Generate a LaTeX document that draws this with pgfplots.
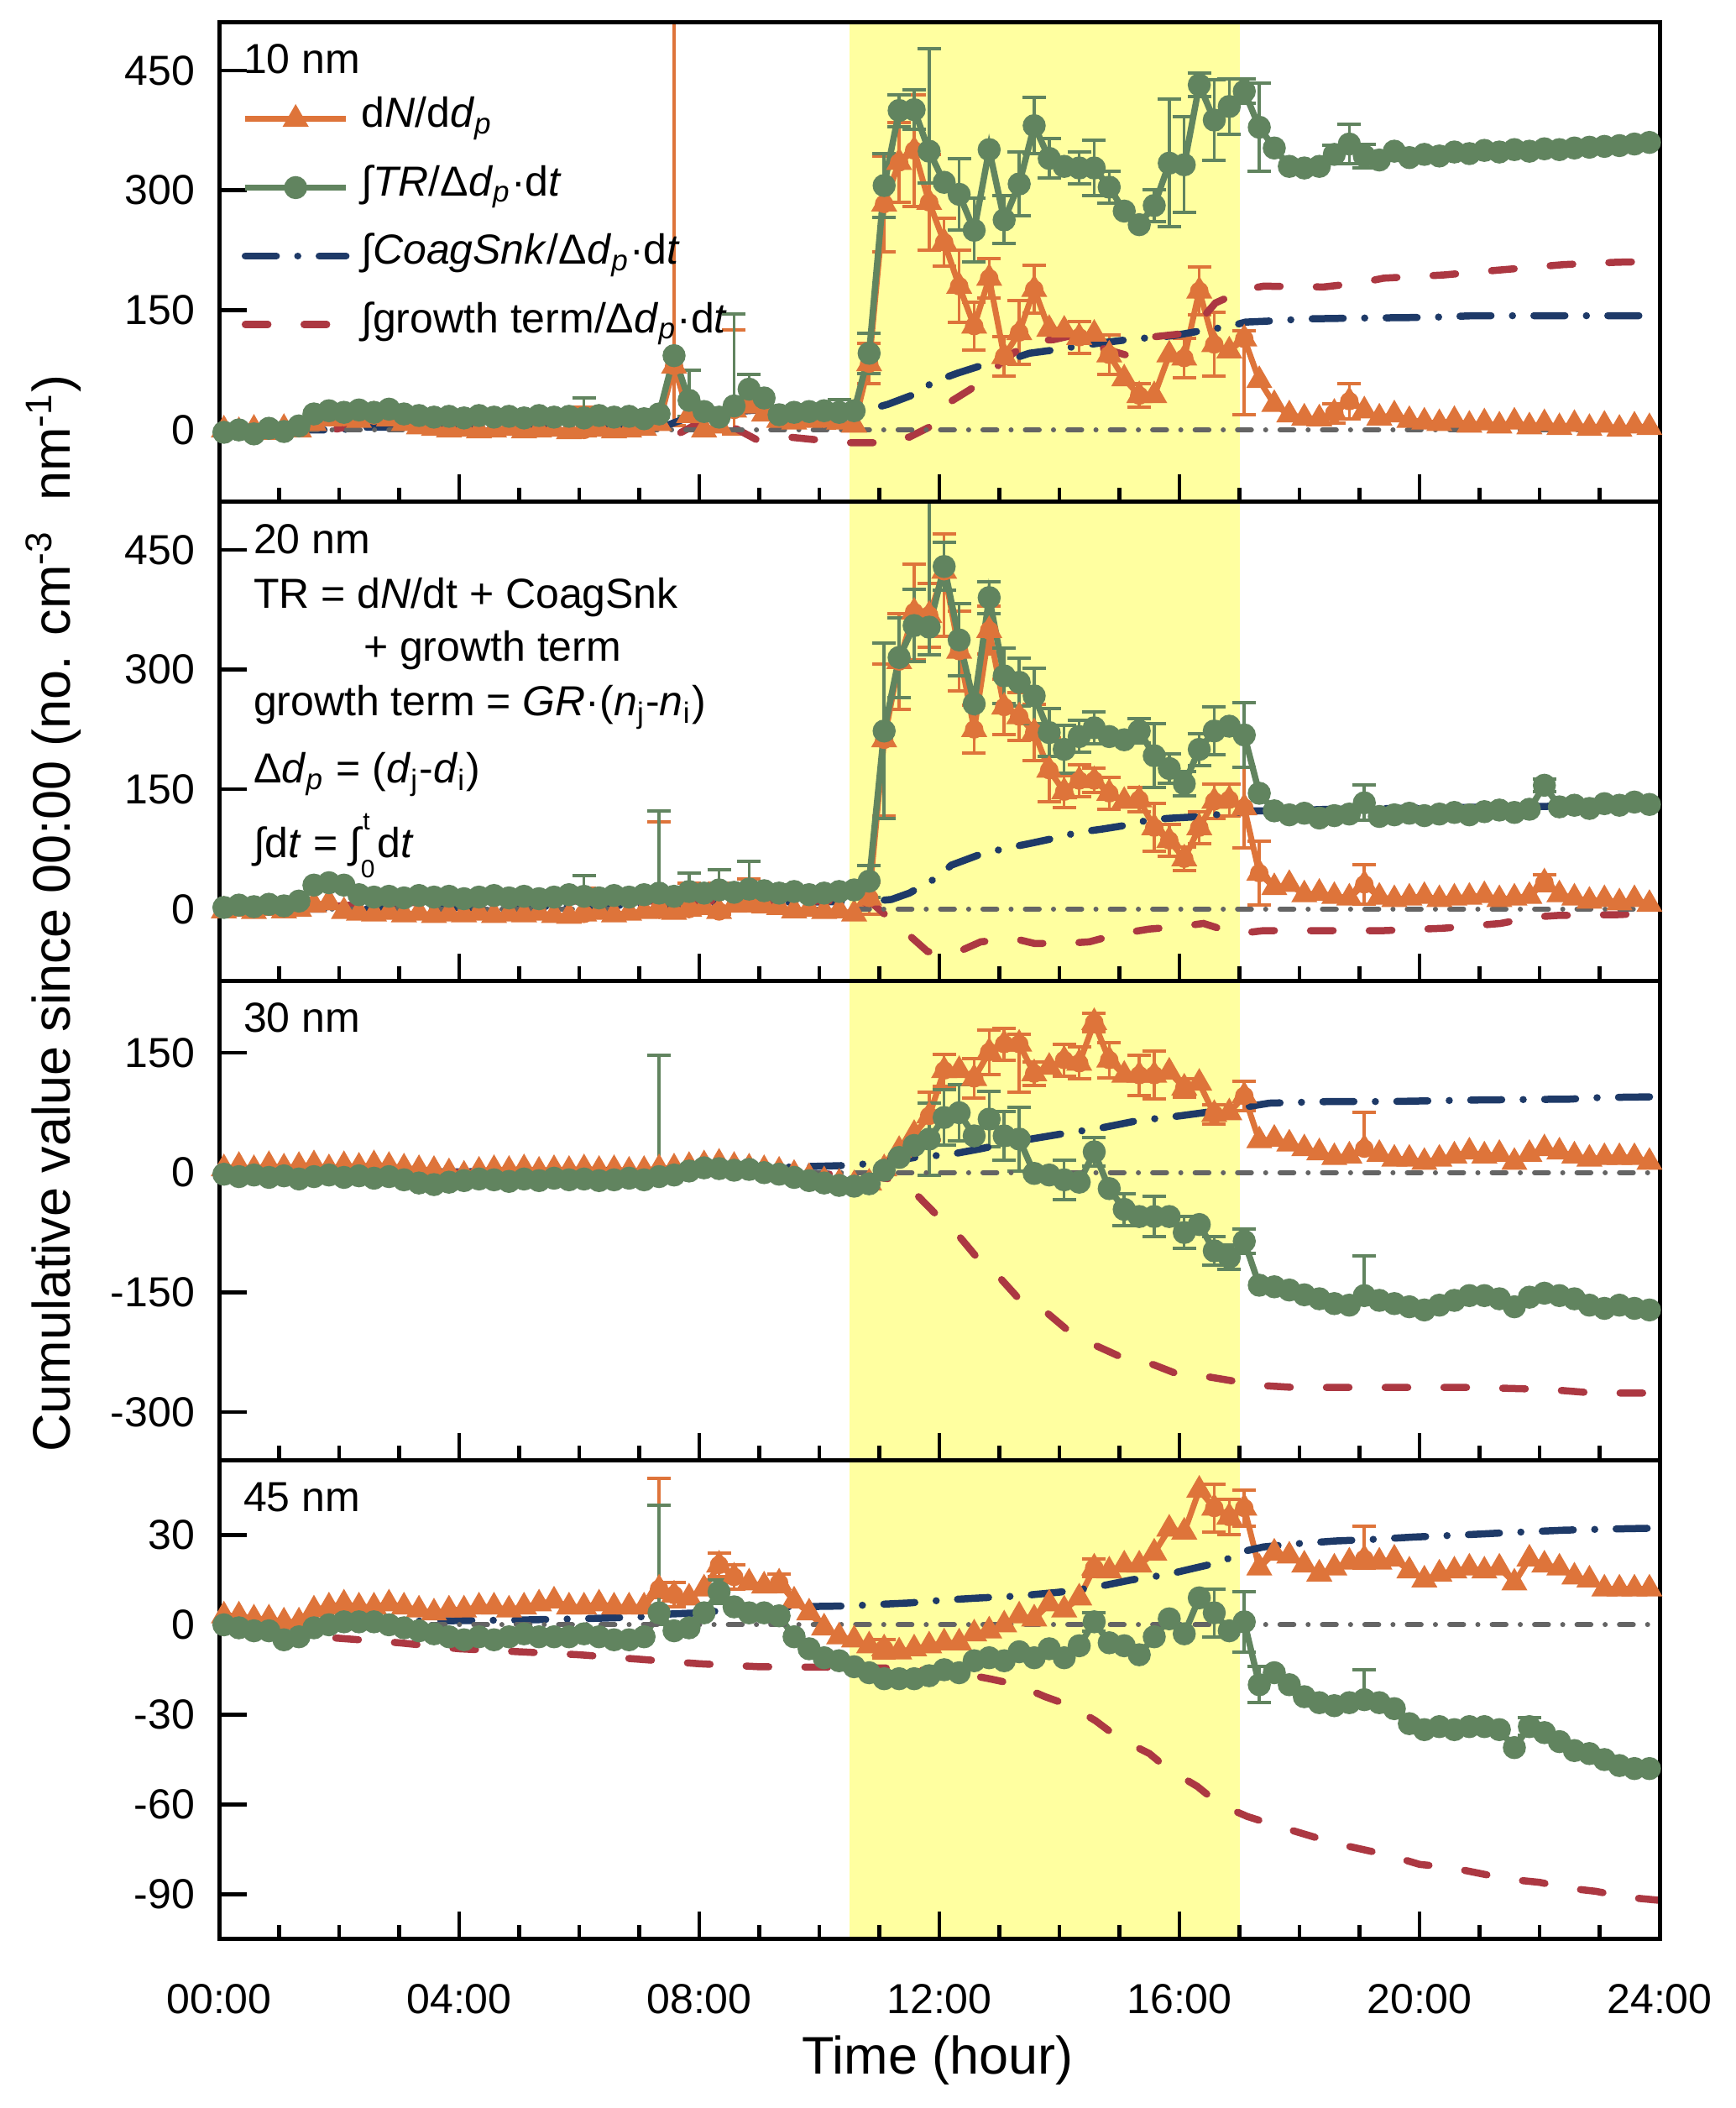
\documentclass[border=0pt]{standalone}
\usepackage{fontspec}
\setmainfont{Liberation Sans}
\usepackage{pgfplots}
\usepackage{pgfplotstable}
\pgfplotsset{compat=1.18}

\definecolor{cO}{RGB}{222,116,58}
\definecolor{cG}{RGB}{97,132,95}
\definecolor{cB}{RGB}{30,58,104}
\definecolor{cR}{RGB}{172,56,66}
\definecolor{cK}{RGB}{100,100,100}
\definecolor{cY}{RGB}{255,255,160}

% panel 1: 10 nm (o = dN/ddp, g = int TR)
\pgfplotstableread{
t o g
0.08 0 -3
0.33 -2 0
0.58 1 -5
0.83 -3 2
1.08 2 -2
1.33 0 5
1.58 8 20
1.83 14 24
2.08 16 22
2.33 12 25
2.58 18 22
2.83 14 26
3.08 8 20
3.33 4 18
3.58 2 16
3.83 0 17
4.08 1 15
4.33 -1 18
4.58 0 16
4.83 2 17
5.08 -1 15
5.33 0 18
5.58 1 16
5.83 -2 17
6.08 0 15
6.33 1 18
6.58 -1 16
6.83 0 17
7.08 2 14
7.33 8 20
7.58 80 93
7.83 18 37
8.08 0 23
8.33 5 16
8.58 25 30
8.83 30 51
9.08 20 40
9.33 12 19
9.58 10 22
9.83 12 23
10.08 14 24
10.33 10 22
10.58 6 24
10.83 83 96
11.08 283 306
11.33 335 400
11.58 350 401
11.83 285 349
12.08 235 310
12.33 180 295
12.58 130 250
12.83 190 351
13.08 92 263
13.33 122 308
13.58 176 381
13.83 126 340
14.08 125 330
14.33 116 328
14.58 120 328
14.83 94 304
15.08 64 274
15.33 43 257
15.58 43 281
15.83 94 334
16.08 90 332
16.33 174 432
16.58 107 388
16.83 99 405
17.08 114 424
17.33 62 379
17.58 32 353
17.83 19 330
18.08 15 328
18.33 14 330
18.58 21 345
18.83 36 358
19.08 24 343
19.33 15 338
19.58 19 349
19.83 12 341
20.08 10 345
20.33 8 343
20.58 12 348
20.83 6 346
21.08 9 350
21.33 5 348
21.58 10 351
21.83 4 349
22.08 8 352
22.33 3 351
22.58 7 353
22.83 2 354
23.08 6 355
23.33 1 356
23.58 5 358
23.83 3 360
}\pone

% panel 2: 20 nm
\pgfplotstableread{
t o g
0.08 -2 2
0.33 0 5
0.58 -3 3
0.83 1 6
1.08 -2 4
1.33 0 10
1.58 5 30
1.83 8 33
2.08 -3 30
2.33 -5 18
2.58 -6 15
2.83 -4 16
3.08 -7 14
3.33 -5 17
3.58 -8 15
3.83 -6 16
4.08 -7 13
4.33 -5 15
4.58 -8 17
4.83 -6 14
5.08 -7 16
5.33 -5 13
5.58 -8 15
5.83 -9 18
6.08 -6 16
6.33 -4 14
6.58 -7 17
6.83 -5 15
7.08 -3 18
7.33 -1 20
7.58 -4 16
7.83 0 22
8.08 2 20
8.33 -3 24
8.58 5 21
8.83 8 25
9.08 4 23
9.33 2 20
9.58 -2 22
9.83 0 18
10.08 -3 20
10.33 -2 22
10.58 -6 24
10.83 14 35
11.08 212 223
11.33 310 315
11.58 372 355
11.83 368 353
12.08 423 429
12.33 323 337
12.58 225 257
12.83 349 390
13.08 253 292
13.33 241 284
13.58 221 267
13.83 174 221
14.08 147 200
14.33 161 216
14.58 161 227
14.83 145 216
15.08 135 212
15.33 137 223
15.58 102 192
15.83 86 176
16.08 63 157
16.33 102 200
16.58 135 223
16.83 137 229
17.08 127 218
17.33 45 145
17.58 27 123
17.83 31 118
18.08 18 120
18.33 20 114
18.58 16 117
18.83 14 119
19.08 31 133
19.33 15 116
19.58 12 118
19.83 14 120
20.08 16 117
20.33 12 119
20.58 14 121
20.83 15 118
21.08 17 122
21.33 12 124
21.58 14 121
21.83 16 125
22.08 33 155
22.33 18 128
22.58 14 130
22.83 10 126
23.08 12 132
23.33 8 130
23.58 12 134
23.83 6 131
}\ptwo

% panel 3: 30 nm
\pgfplotstableread{
t o g
0.08 5 -2
0.33 8 -5
0.58 4 -3
0.83 9 -6
1.08 6 -4
1.33 8 -8
1.58 10 -5
1.83 5 -3
2.08 9 -6
2.33 7 -4
2.58 10 -7
2.83 8 -5
3.08 6 -9
3.33 4 -13
3.58 3 -15
3.83 0 -12
4.08 -3 -10
4.33 2 -8
4.58 4 -9
4.83 3 -11
5.08 5 -8
5.33 2 -10
5.58 4 -7
5.83 3 -9
6.08 5 -8
6.33 3 -10
6.58 4 -9
6.83 2 -7
7.08 3 -9
7.33 5 -5
7.58 6 -3
7.83 8 2
8.08 10 6
8.33 12 5
8.58 8 3
8.83 6 4
9.08 4 0
9.33 2 -2
9.58 -2 -6
9.83 -6 -10
10.08 -10 -13
10.33 -13 -16
10.58 -15 -17
10.83 -13 -14
11.08 5 3
11.33 28 19
11.58 48 34
11.83 71 42
12.08 128 69
12.33 128 75
12.58 118 46
12.83 151 67
13.08 161 46
13.33 161 42
13.58 124 -1
13.83 132 -3
14.08 141 -9
14.33 137 -12
14.58 188 26
14.83 141 -20
15.08 122 -46
15.33 122 -55
15.58 122 -55
15.83 126 -55
16.08 106 -75
16.33 112 -65
16.58 73 -98
16.83 75 -106
17.08 96 -86
17.33 40 -141
17.58 42 -143
17.83 36 -147
18.08 30 -153
18.33 25 -158
18.58 19 -164
18.83 21 -166
19.08 30 -154
19.33 23 -160
19.58 17 -164
19.83 17 -168
20.08 13 -172
20.33 17 -166
20.58 21 -160
20.83 26 -154
21.08 21 -154
21.33 23 -158
21.58 13 -168
21.83 23 -156
22.08 30 -151
22.33 26 -154
22.58 21 -158
22.83 17 -166
23.08 19 -170
23.33 19 -166
23.58 19 -170
23.83 13 -172
}\pthree

% panel 4: 45 nm
\pgfplotstableread{
t o g
0.08 3 0
0.33 3 -1
0.58 2 -2
0.83 2 -2
1.08 1 -5
1.33 1 -4
1.58 5 -1
1.83 6 0
2.08 7 1
2.33 6 1
2.58 6 1
2.83 7 0
3.08 6 -1
3.33 5 -2
3.58 4 -3
3.83 5 -4
4.08 5 -5
4.33 6 -4
4.58 6 -5
4.83 5 -4
5.08 6 -3
5.33 7 -4
5.58 8 -4
5.83 6 -4
6.08 6 -3
6.33 7 -4
6.58 6 -5
6.83 6 -5
7.08 6 -4
7.33 12 4
7.58 10 -2
7.83 9 -1
8.08 12 4
8.33 20 11
8.58 16 6
8.83 14 4
9.08 13 4
9.33 14 3
9.58 8 -4
9.83 4 -8
10.08 -1 -11
10.33 -4 -12
10.58 -5 -14
10.83 -7 -16
11.08 -8 -18
11.33 -9 -18
11.58 -8 -18
11.83 -7 -17
12.08 -6 -15
12.33 -6 -16
12.58 -3 -12
12.83 -2 -11
13.08 0 -12
13.33 3 -9
13.58 2 -11
13.83 7 -8
14.08 5 -11
14.33 9 -7
14.58 19 1
14.83 18 -6
15.08 20 -7
15.33 20 -10
15.58 24 -4
15.83 32 2
16.08 31 -3
16.33 45 9
16.58 39 4
16.83 36 -2
17.08 39 1
17.33 19 -20
17.58 24 -16
17.83 23 -20
18.08 20 -24
18.33 17 -26
18.58 19 -27
18.83 21 -26
19.08 22 -25
19.33 21 -26
19.58 22 -28
19.83 18 -33
20.08 15 -35
20.33 17 -34
20.58 18 -35
20.83 19 -34
21.08 18 -34
21.33 19 -35
21.58 14 -41
21.83 22 -34
22.08 20 -36
22.33 19 -39
22.58 16 -42
22.83 15 -43
23.08 12 -45
23.33 12 -47
23.58 12 -48
23.83 12 -48
}\pfour

\pgfplotsset{
  panel/.style={
    scale only axis, width=343.2pt, height=114.15pt,
    anchor=south west,
    xmin=0, xmax=24,
    xtick={0,4,...,24}, minor x tick num=3,
    tick pos=left, tick align=inside,
    major tick length=6.5pt, minor tick length=3.4pt,
    every tick/.append style={line width=0.9pt, black},
    every minor tick/.append style={line width=0.9pt, black},
    axis line style={line width=1pt},
    axis on top,
    xticklabels={},
    tick label style={font=\fontsize{10}{12}\selectfont},
    yticklabel style={xshift=-2.3pt},
    xticklabel style={anchor=base, yshift=-17.8pt},
    /pgf/number format/assume math mode=true,
  },
  oline/.style={cO, line width=1.4pt, mark=triangle*, mark size=3.1pt, mark options={solid, line width=0.5pt}},
  gline/.style={cG, line width=1.5pt, mark=*, mark size=2.5pt, mark options={solid, line width=0.5pt}},
  bline/.style={cB, line width=1.7pt, line cap=round, dash pattern=on 7.4pt off 5.1pt on 0.01pt off 5.1pt},
  rline/.style={cR, line width=1.7pt, line cap=round, dash pattern=on 5.4pt off 8.6pt},
  kline/.style={cK, line width=1.2pt, line cap=round, dash pattern=on 3.3pt off 3.4pt on 0.01pt off 3.4pt, forget plot},
  band/.style={fill=cY, draw=none, forget plot},
  ebar/.style={#1, only marks, mark=none, forget plot, error bars/.cd, y dir=both, y explicit, error bar style={line width=0.7pt}, error mark options={rotate=90, line width=0.8pt, mark size=2.8pt}},
}

\begin{document}
\begin{tikzpicture}
\useasboundingbox (0,0) rectangle (413.4pt,502.2pt);

% ---------------- panel 1 : 10 nm ----------------
\begin{axis}[panel, at={(52.2pt,382.65pt)}, ymin=-90, ymax=510, ytick={0,150,300,450},
  legend style={at={(0.0157,0.8467)}, anchor=north west, draw=none, fill=none, inner sep=0pt, outer sep=0pt,
    row sep=5.3pt, column sep=2.8pt, font=\fontsize{10}{12}\selectfont,
    nodes={inner sep=0pt, text height=7.5pt, text depth=3.5pt}},
  legend cell align=left,
  legend image code/.code={\draw[mark repeat=2,mark phase=2,#1] plot coordinates {(0pt,0pt) (12pt,0pt) (24pt,0pt)};}]
\addplot[band] coordinates {(10.5,-90) (10.5,510) (17,510) (17,-90)} --cycle;
\addplot[ebar=cO] coordinates {
 (2.08,16) +- (0,10) (2.58,18) +- (0,12) (6.08,0) += (0,28) -= (0,3)
 (7.58,80) += (0,500) -= (0,75) (8.58,25) += (0,100) -= (0,30) (10.08,14) +- (0,12)
 (10.83,83) +- (0,25) (11.08,283) +- (0,60) (11.33,335) +- (0,50) (11.58,350) +- (0,70)
 (11.83,285) +- (0,60) (12.08,235) +- (0,30) (12.33,180) +- (0,45) (12.58,130) +- (0,30)
 (12.83,190) +- (0,25) (13.08,92) +- (0,25) (13.33,122) +- (0,40) (13.58,176) +- (0,30)
 (14.33,116) +- (0,20) (14.83,94) +- (0,25) (15.33,43) +- (0,15) (16.08,90) +- (0,25)
 (16.33,174) +- (0,30) (16.58,107) +- (0,40) (17.08,114) += (0,10) -= (0,95)
 (18.58,21) +- (0,12) (18.83,36) +- (0,22)};
\addplot[oline] table[x=t,y=o] {\pone};
\addlegendentry{d\textit{N}/d\textit{d}\textsubscript{\textit{p}}}
\addplot[ebar=cG] coordinates {
 (2.58,22) +- (0,10) (6.08,15) += (0,25) -= (0,5) (7.83,37) += (0,38) -= (0,20)
 (8.58,30) += (0,115) -= (0,10) (8.83,51) +- (0,18) (10.33,22) +- (0,16)
 (10.83,96) +- (0,25) (11.08,306) +- (0,40) (11.33,400) +- (0,20) (11.58,401) +- (0,25)
 (11.83,349) += (0,128) -= (0,40) (12.33,295) +- (0,45) (12.58,250) +- (0,40)
 (13.08,263) +- (0,30) (13.33,308) +- (0,40) (13.58,381) +- (0,35) (13.83,340) +- (0,25)
 (14.33,328) +- (0,20) (14.58,328) +- (0,35) (14.83,304) +- (0,20) (15.58,281) +- (0,20)
 (15.83,334) +- (0,80) (16.08,332) +- (0,60) (16.33,432) +- (0,15) (16.58,388) +- (0,50)
 (16.83,405) +- (0,35) (17.08,424) +- (0,15) (17.33,379) +- (0,55)
 (18.58,345) +- (0,12) (18.83,358) +- (0,25) (19.08,343) +- (0,15)};
\addplot[gline] table[x=t,y=g] {\pone};
\addlegendentry{∫\textit{TR}/Δ\textit{d}\textsubscript{\textit{p}}·d\textit{t}}
\addplot[bline] coordinates {(0,0) (2,0) (2.5,3.5) (4.6,3.5) (5.8,4) (6.9,5) (7.44,5) (7.93,19) (8.6,23) (9.2,26) (10.5,25) (10.85,26) (11.14,32) (11.6,45) (11.9,60) (12.3,71) (12.8,83) (13.1,86) (13.5,96) (14.0,101) (14.3,105) (14.7,109) (15.25,114) (15.6,116) (15.9,118) (16.5,126) (16.8,129) (17.1,135) (17.7,137) (18.07,139) (18.95,140) (20.2,141) (20.9,143) (24,143)};
\addlegendentry{∫\textit{CoagSnk}/Δ\textit{d}\textsubscript{\textit{p}}·d\textit{t}}
\addplot[rline] coordinates {(0,0) (1.9,0) (2.4,9) (3,10) (5,10) (7,10) (7.4,12) (7.55,-5) (7.65,-5) (8.0,9) (8.5,6) (8.95,-12) (9.5,-9) (9.9,-12) (10.5,-16) (10.9,-16) (11.1,-10) (11.5,-9) (11.9,6) (12.2,36) (12.5,50) (12.9,70) (13.0,83) (13.5,111) (13.9,113) (14.2,118) (14.3,111) (15.1,94) (15.5,116) (16.0,120) (16.3,133) (16.6,159) (17.1,176) (17.4,180) (18.4,179) (19.0,184) (19.4,190) (20.4,194) (21.3,200) (22.4,207) (23.3,210) (24,211)};
\addlegendentry{∫growth term/Δ\textit{d}\textsubscript{\textit{p}}·d\textit{t}}
\addplot[kline] coordinates {(0,0) (24,0)};
\end{axis}

% ---------------- panel 2 : 20 nm ----------------
\begin{axis}[panel, at={(52.2pt,268.5pt)}, ymin=-90, ymax=510, ytick={0,150,300,450}]
\addplot[band] coordinates {(10.5,-90) (10.5,510) (17,510) (17,-90)} --cycle;
\addplot[ebar=cO] coordinates {
 (6.08,-6) += (0,32) -= (0,3) (7.33,-1) += (0,110) -= (0,3) (7.83,0) += (0,32) -= (0,5)
 (8.33,-3) += (0,35) -= (0,3) (8.83,8) += (0,30) -= (0,10) (10.83,14) +- (0,20)
 (11.08,212) +- (0,95) (11.33,310) +- (0,60) (11.58,372) +- (0,60) (11.83,368) +- (0,40)
 (12.08,423) += (0,47) -= (0,82) (12.33,323) +- (0,50) (12.58,225) +- (0,30) (12.83,349) +- (0,30)
 (13.08,253) +- (0,35) (13.33,241) +- (0,30) (13.58,221) +- (0,35) (13.83,174) +- (0,40)
 (14.08,147) +- (0,20) (14.33,161) +- (0,20) (14.58,161) +- (0,15) (14.83,145) +- (0,20)
 (15.33,137) +- (0,15) (15.58,102) +- (0,30) (15.83,86) +- (0,20) (16.08,63) +- (0,15)
 (16.33,102) +- (0,20) (16.58,135) +- (0,22) (16.83,137) +- (0,20) (17.08,127) +- (0,50)
 (17.33,45) +- (0,40) (19.08,31) +- (0,25) (22.08,33) +- (0,10)};
\addplot[oline] table[x=t,y=o] {\ptwo};
\addplot[ebar=cG] coordinates {
 (6.08,16) += (0,26) -= (0,3) (7.33,20) += (0,103) -= (0,5) (7.83,22) += (0,23) -= (0,5)
 (8.33,24) += (0,25) -= (0,5) (8.83,25) += (0,35) -= (0,5) (9.33,20) +- (0,10)
 (10.83,35) +- (0,20) (11.08,223) +- (0,110) (11.33,315) +- (0,50) (11.58,355) +- (0,45)
 (11.83,353) += (0,160) -= (0,35) (12.08,429) +- (0,30) (12.33,337) +- (0,45) (12.83,390) +- (0,20)
 (13.08,292) +- (0,35) (13.33,284) +- (0,30) (13.58,267) +- (0,35) (13.83,221) +- (0,30)
 (14.08,200) +- (0,30) (14.33,216) +- (0,20) (14.58,227) +- (0,20) (15.33,223) +- (0,15)
 (15.58,192) +- (0,40) (15.83,176) +- (0,18) (16.08,157) +- (0,15) (16.33,200) +- (0,20)
 (16.58,223) +- (0,30) (17.08,218) +- (0,40) (19.08,133) +- (0,22) (22.08,155) +- (0,8)};
\addplot[gline] table[x=t,y=g] {\ptwo};
\addplot[bline] coordinates {(0,0) (2,0) (4,2) (6,4) (8,6) (9,8) (10,9) (10.9,10) (11.2,12) (11.5,20) (11.95,39) (12.2,55) (12.7,69) (13.1,76) (13.5,82) (14,90) (14.3,96) (14.7,100) (15.2,106) (15.5,112) (15.9,114) (16.4,116) (16.8,120) (17.2,123) (17.7,123) (18.5,125) (19.5,126) (20.5,127) (21.5,128) (22.5,129) (23.5,130) (24,131)};
\addplot[rline] coordinates {(0,0) (1.5,2) (2.5,6) (3,8) (6,10) (9,10) (10.5,10) (10.9,6) (11.05,-4) (11.47,-31) (11.8,-53) (12.05,-57) (12.27,-55) (12.69,-41) (13.25,-37) (13.58,-43) (14.1,-43) (14.5,-41) (15.0,-31) (15.5,-25) (16.0,-22) (16.4,-18) (16.95,-31) (17.4,-27) (18.4,-27) (19.4,-27) (20.4,-24) (21.35,-18) (21.9,-10) (22.3,-8) (23.3,-7) (24,-5)};
\addplot[kline] coordinates {(0,0) (24,0)};
\end{axis}

% ---------------- panel 3 : 30 nm ----------------
\begin{axis}[panel, at={(52.2pt,154.35pt)}, ymin=-360, ymax=240, ytick={-300,-150,0,150}]
\addplot[band] coordinates {(10.5,-360) (10.5,240) (17,240) (17,-360)} --cycle;
\addplot[ebar=cO] coordinates {
 (10.58,-15) +- (0,5) (11.83,71) +- (0,30) (12.08,128) +- (0,20) (12.58,118) +- (0,25)
 (12.83,151) +- (0,28) (13.08,161) +- (0,20) (13.33,161) += (0,12) -= (0,60) (13.58,124) +- (0,15)
 (14.08,141) +- (0,20) (14.33,137) +- (0,20) (14.58,188) +- (0,12) (14.83,141) +- (0,22)
 (15.33,122) +- (0,25) (15.58,122) +- (0,30) (16.08,106) +- (0,12) (16.58,73) +- (0,12)
 (17.08,96) +- (0,18) (19.08,30) += (0,45) -= (0,5)};
\addplot[oline] table[x=t,y=o] {\pthree};
\addplot[ebar=cG] coordinates {
 (7.33,-5) += (0,152) -= (0,3) (11.83,42) +- (0,45) (12.08,69) +- (0,35) (12.33,75) +- (0,35)
 (12.83,67) +- (0,35) (13.08,46) +- (0,30) (13.33,42) +- (0,40) (14.08,-9) +- (0,25)
 (14.58,26) +- (0,18) (15.08,-46) +- (0,20) (15.58,-55) +- (0,25) (16.08,-75) +- (0,20)
 (16.58,-98) +- (0,18) (16.83,-106) +- (0,15) (17.08,-86) +- (0,15) (19.08,-154) += (0,50) -= (0,5)};
\addplot[gline] table[x=t,y=g] {\pthree};
\addplot[bline] coordinates {(0,0) (2,0) (4,1) (6,2) (8,4) (9,6) (10,8) (10.5,9) (11.05,13) (11.6,19) (12.2,23) (12.7,30) (13.2,38) (14,48) (14.7,56) (15.3,65) (16,71) (16.6,77) (17,81) (17.5,87) (18.5,89) (19.5,89) (21,91) (22.5,92) (23,94) (24,95)};
\addplot[rline] coordinates {(0,0) (4,0) (8,-1) (10.5,-2) (11.2,-8) (11.6,-26) (11.9,-49) (12.3,-77) (12.6,-104) (13.0,-131) (13.3,-156) (13.8,-176) (14.1,-195) (14.56,-215) (15.0,-230) (15.55,-240) (15.96,-252) (16.5,-256) (16.9,-261) (17.46,-267) (17.9,-269) (19.9,-269) (20.9,-269) (21.9,-271) (22.4,-273) (22.9,-276) (24,-276)};
\addplot[kline] coordinates {(0,0) (24,0)};
\end{axis}

% ---------------- panel 4 : 45 nm ----------------
\begin{axis}[panel, at={(52.2pt,40.2pt)}, ymin=-105, ymax=55, ytick={-90,-60,-30,0,30},
  xticklabels={00:00,04:00,08:00,12:00,16:00,20:00,24:00}]
\addplot[band] coordinates {(10.5,-105) (10.5,55) (17,55) (17,-105)} --cycle;
\addplot[ebar=cO] coordinates {
 (7.33,12) += (0,37) -= (0,3) (7.58,10) +- (0,4) (8.33,20) +- (0,4) (8.58,16) +- (0,4)
 (9.33,14) +- (0,3) (11.08,-8) +- (0,3) (14.58,19) +- (0,3) (16.58,39) +- (0,8)
 (16.83,36) +- (0,6) (17.08,39) +- (0,6) (19.08,22) += (0,11) -= (0,3)};
\addplot[oline] table[x=t,y=o] {\pfour};
\addplot[ebar=cG] coordinates {
 (7.33,4) += (0,36) -= (0,4) (8.33,11) +- (0,4) (14.58,1) +- (0,3) (16.58,4) +- (0,8)
 (17.08,1) +- (0,10) (17.33,-20) +- (0,6) (19.08,-25) += (0,10) -= (0,2) (21.83,-34) +- (0,3)};
\addplot[gline] table[x=t,y=g] {\pfour};
\addplot[bline] coordinates {(0,0) (1,0.3) (2,1) (3,1.2) (4,1.4) (5,1.6) (6,2) (7,2.6) (7.5,3.6) (8,4) (8.5,5) (9.5,6) (10.5,6.3) (10.86,6.7) (11.5,7.3) (12.1,8.3) (12.7,9) (13.3,9.6) (14,10.9) (14.56,12.4) (15.2,15) (15.8,16.8) (16.2,18.7) (16.7,21) (17.04,24.4) (17.4,26) (17.9,27) (18.6,28) (19.2,28.5) (19.9,29.3) (20.7,30) (21.4,30.7) (22.4,31.6) (23.2,32) (24,32.3)};
\addplot[rline] coordinates {(0,0) (1,-3) (2,-4.5) (3,-6) (4,-8) (5,-9) (6,-10) (7,-11.5) (8,-13) (9,-14) (10.3,-14.2) (11.3,-14.5) (12.3,-16) (12.83,-18) (13.3,-20) (13.76,-24) (14.18,-27) (14.6,-32) (15.0,-38) (15.5,-43) (15.8,-48) (16.3,-54) (16.67,-60) (17.13,-64) (17.6,-67) (18.1,-70) (18.6,-73) (19.05,-75) (19.5,-77) (20.0,-80) (20.5,-81) (21.0,-83) (21.5,-85) (22.0,-86) (22.5,-88) (22.94,-89) (23.46,-91) (24,-92)};
\addplot[kline] coordinates {(0,0) (24,0)};
\end{axis}

% ---------------- texts ----------------
\begin{scope}[every node/.style={inner sep=0pt, outer sep=0pt, font=\fontsize{10}{12}\selectfont}]
\node[anchor=base west] at (58pt,484.6pt) {10 nm};
\node[anchor=base west] at (60.4pt,370.2pt) {20 nm};
\node[anchor=base west] at (60.4pt,357.2pt) {TR = d\textit{N}/dt + CoagSnk};
\node[anchor=base west] at (86.6pt,344.6pt) {+ growth term};
\node[anchor=base west] at (60.4pt,331.6pt) {growth term = \textit{GR}·(\textit{n}\textsubscript{j}-\textit{n}\textsubscript{i})};
\node[anchor=base west] at (60.4pt,315.6pt) {Δ\textit{d}\textsubscript{\textit{p}} = (\textit{d}\textsubscript{j}-\textit{d}\textsubscript{i})};
\node[anchor=base west] at (60.4pt,297.8pt) {∫d\textit{t} = ∫\makebox[0pt][l]{\hspace{0.5pt}\raisebox{1.25ex}{\fontsize{6}{6}\selectfont t}}\raisebox{-0.9ex}{\fontsize{6}{6}\selectfont 0}\hspace{0.6pt}d\textit{t}};
\node[anchor=base west] at (58pt,256.3pt) {30 nm};
\node[anchor=base west] at (58pt,142.15pt) {45 nm};
\end{scope}
\node[rotate=90, anchor=base, inner sep=0pt, font=\fontsize{12.6}{14}\selectfont] at (16.6pt,284.6pt)
  {Cumulative value since 00:00 (no. cm\textsuperscript{-3}~ nm\textsuperscript{-1})};
\node[anchor=base, inner sep=0pt, font=\fontsize{12.6}{14}\selectfont] at (223.4pt,8.2pt) {Time (hour)};
\end{tikzpicture}
\end{document}
